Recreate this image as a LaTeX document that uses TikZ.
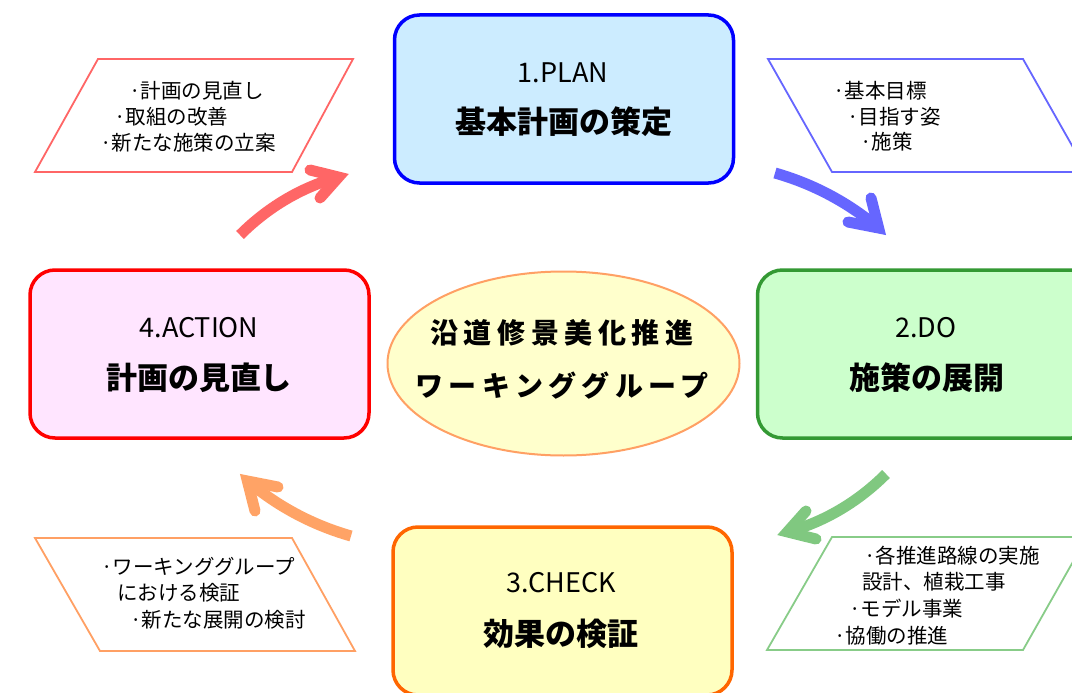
\documentclass[tikz,border=0pt]{standalone}
\usepackage{fontspec}
\setmainfont{Noto Sans CJK JP}
\newfontfamily\ellfont[LetterSpace=20]{Noto Sans CJK JP}
\definecolor{planB}{RGB}{0,0,255}
\definecolor{planF}{RGB}{204,236,255}
\definecolor{doB}{RGB}{51,153,51}
\definecolor{doF}{RGB}{204,255,204}
\definecolor{chkB}{RGB}{255,102,0}
\definecolor{chkF}{RGB}{255,255,192}
\definecolor{actB}{RGB}{255,0,0}
\definecolor{actF}{RGB}{255,229,255}
\definecolor{ellB}{RGB}{255,160,100}
\definecolor{ellF}{RGB}{255,255,204}
\definecolor{pRed}{RGB}{255,102,102}
\definecolor{pBlue}{RGB}{102,102,255}
\definecolor{pOrange}{RGB}{255,160,100}
\definecolor{pGreen}{RGB}{136,204,136}
\definecolor{aGreen}{RGB}{128,200,128}
\definecolor{aOrange}{RGB}{255,163,102}
\tikzset{
  mainbox/.style={rounded corners=25pt, line width=3.5pt, minimum width=339pt, minimum height=168pt, inner sep=0pt},
  titletext/.style={font=\fontsize{27}{30}\selectfont, inner sep=0pt, anchor=center},
  headtext/.style={font=\fontsize{31}{34}\selectfont\bfseries, inner sep=0pt, anchor=center},
  ptext/.style={font=\fontsize{20.5}{24}\selectfont, inner sep=0pt, anchor=west},
  para/.style={line width=1.8pt, line join=miter},
  shaft/.style={line width=11pt, line cap=butt},
  barbs/.style={line width=11pt, line cap=round, line join=miter, miter limit=10},
  elltext/.style={font=\fontsize{28}{32}\selectfont\ellfont\bfseries, inner sep=0pt, anchor=center}
}
\begin{document}
\begin{tikzpicture}[x=1pt,y=-1pt]
\useasboundingbox (0,0) rectangle (1072,693);
\fill[white] (0,0) rectangle (1072,693);

% parallelograms
\draw[para, draw=pRed, fill=white] (98,59) -- (353,59) -- (292,172) -- (35,172) -- cycle;
\draw[para, draw=pBlue, fill=white] (768,59) -- (1023,59) -- (1087,172) -- (832,172) -- cycle;
\draw[para, draw=pOrange, fill=white] (35,538) -- (292,538) -- (355,651) -- (100,651) -- cycle;
\draw[para, draw=pGreen, fill=white] (832,537) -- (1087,537) -- (1023,650) -- (767,650) -- cycle;

% parallelogram texts
\node[ptext] (tl1) at (129,91) {·計画の見直し};
\node[ptext] (tl2) at (114,117) {·取組の改善};
\node[ptext] (tl3) at (100,143) {·新たな施策の立案};

\node[ptext] (tr1) at (833,91) {·基本目標};
\node[ptext] (tr2) at (847,117) {·目指す姿};
\node[ptext] (tr3) at (860,142) {·施策};

\node[ptext] (bl1) at (101,567) {·ワーキンググループ};
\node[ptext] (bl2) at (117,593) {における検証};
\node[ptext] (bl3) at (130,620) {·新たな展開の検討};

\node[ptext] (br1) at (864,556) {·各推進路線の実施};
\node[ptext] (br2) at (862,582) {設計、植栽工事};
\node[ptext] (br3) at (849,609) {·モデル事業};
\node[ptext] (br4) at (834,636) {·協働の推進};

% main boxes
\node[mainbox, draw=planB, fill=planF] (plan) at (564,99) {};
\node[mainbox, draw=doB, fill=doF] (do) at (927,354) {};
\node[mainbox, draw=chkB, fill=chkF] (check) at (562.5,611) {};
\node[mainbox, draw=actB, fill=actF] (action) at (199.5,354) {};

\node[titletext] (planT) at (563,73) {1.PLAN};
\node[headtext] (planH) at (564,122) {基本計画の策定};
\node[titletext] (doT) at (926,328) {2.DO};
\node[headtext] (doH) at (927,378) {施策の展開};
\node[titletext] (chkT) at (561,583) {3.CHECK};
\node[headtext] (chkH) at (561,634) {効果の検証};
\node[titletext] (actT) at (199,328) {4.ACTION};
\node[headtext] (actH) at (199,378) {計画の見直し};

% ellipse
\draw[line width=2pt, draw=ellB, fill=ellF] (563.5,363.5) ellipse [x radius=176, y radius=92];
\node[elltext] (e1) at (562,333) {沿道修景美化推進};
\node[elltext] (e2) at (562,386) {ワーキンググループ};

% arrows
% red (ACTION -> PLAN)
\coordinate (rT) at (240,235);
\coordinate (rV) at (338.6,177.1);
\coordinate (rA) at (310,170);
\coordinate (rB) at (320,198);
\draw[shaft, draw=pRed] (rT) .. controls (270,205) and (305,186) .. (rV);
\draw[barbs, draw=pRed] (rA) -- (rV) -- (rB);
% blue (PLAN -> DO)
\coordinate (bT) at (775,173);
\coordinate (bV) at (878.6,228);
\coordinate (bA) at (871,198);
\coordinate (bB) at (848,222);
\draw[shaft, draw=pBlue] (bT) .. controls (810,183) and (845,200) .. (bV);
\draw[barbs, draw=pBlue] (bA) -- (bV) -- (bB);
% green (DO -> CHECK)
\coordinate (gT) at (886,474);
\coordinate (gV) at (787.4,531.9);
\coordinate (gA) at (816,539);
\coordinate (gB) at (806,511);
\draw[shaft, draw=aGreen] (gT) .. controls (856,504) and (821,523) .. (gV);
\draw[barbs, draw=aGreen] (gA) -- (gV) -- (gB);
% orange (CHECK -> ACTION)
\coordinate (oT) at (351,536);
\coordinate (oV) at (247.4,481);
\coordinate (oA) at (255,511);
\coordinate (oB) at (278,487);
\draw[shaft, draw=aOrange] (oT) .. controls (316,526) and (281,509) .. (oV);
\draw[barbs, draw=aOrange] (oA) -- (oV) -- (oB);
\end{tikzpicture}
\end{document}
